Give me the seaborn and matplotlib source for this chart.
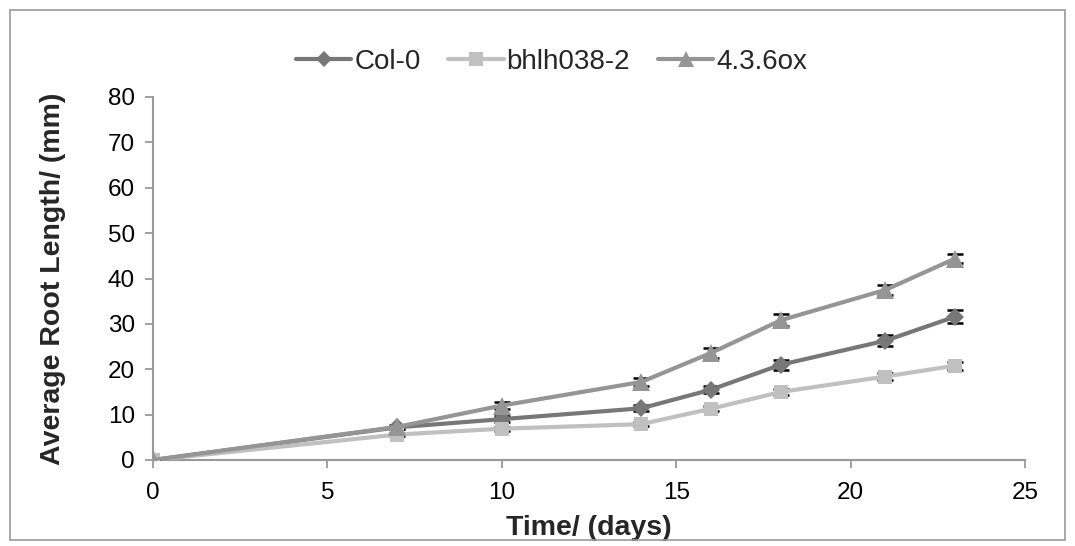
import matplotlib
matplotlib.use("Agg")
import matplotlib.pyplot as plt
import seaborn as sns
import pandas as pd
from matplotlib.patches import Rectangle
from matplotlib.lines import Line2D

days = [0, 7, 10, 14, 16, 18, 21, 23]
col0 = [0.0, 7.2, 9.0, 11.4, 15.5, 21.0, 26.3, 31.6]
col0_err = [0.0, 0.4, 0.6, 0.7, 0.8, 1.1, 1.2, 1.4]
bhlh = [0.0, 5.6, 6.9, 7.9, 11.3, 15.0, 18.4, 20.8]
bhlh_err = [0.0, 0.3, 0.4, 0.5, 0.6, 0.7, 0.8, 0.9]
ox = [0.0, 7.3, 12.0, 17.2, 23.6, 30.8, 37.5, 44.4]
ox_err = [0.0, 0.5, 0.7, 0.8, 1.1, 1.3, 1.1, 1.0]
series_names = ["Col-0", "bhlh038-2", "4.3.6ox"]

sns.set_theme(style="white")
plt.rcParams['font.family'] = ['Liberation Sans', 'DejaVu Sans']

rows = []
for name, vals, errs in [("Col-0", col0, col0_err), ("bhlh038-2", bhlh, bhlh_err), ("4.3.6ox", ox, ox_err)]:
    for d, v, e in zip(days, vals, errs):
        rows.append({"Time": d, "Length": v, "err": e, "Series": name})
df = pd.DataFrame(rows)

colors = {"Col-0": "#777777", "bhlh038-2": "#c0c0c0", "4.3.6ox": "#959595"}
markers = {"Col-0": "D", "bhlh038-2": "s", "4.3.6ox": "^"}
msizes = {"Col-0": 9.5, "bhlh038-2": 10.5, "4.3.6ox": 12.5}

fig = plt.figure(figsize=(10.75, 5.46), dpi=100)
ax = fig.add_axes([153/1075, 1 - 460/546, (1025-153)/1075, (460-97)/546])

for name in series_names:
    sub = df[df.Series == name]
    ax.errorbar(sub.Time, sub.Length, yerr=sub.err, fmt='none', ecolor='black',
                elinewidth=1.2, capsize=5.5, capthick=1.8, zorder=2)

sns.lineplot(data=df, x="Time", y="Length", hue="Series", style="Series",
             palette=colors, markers=markers, dashes=False, linewidth=3,
             markeredgewidth=0, ax=ax, legend=False, zorder=3)
for line, name in zip(ax.lines[-3:], series_names):
    line.set_markersize(msizes[name])

ax.set_xlim(0, 25)
ax.set_ylim(0, 80)
ax.set_xticks([0, 5, 10, 15, 20, 25])
ax.set_yticks(range(0, 81, 10))
ax.tick_params(axis='both', labelsize=17.5, labelcolor='black', color='#999999',
               length=6, width=1.3, direction='out')
ax.tick_params(axis='x', pad=10)
ax.tick_params(axis='y', pad=7)
ax.tick_params(left=True, bottom=True)
for s in ["top", "right"]:
    ax.spines[s].set_visible(False)
for s in ["left", "bottom"]:
    ax.spines[s].set_color("#999999")
    ax.spines[s].set_linewidth(1.5)
ax.set_xlabel("Time/ (days)", fontsize=20.5, fontweight='bold', labelpad=8)
ax.set_ylabel("Average Root Length/ (mm)", fontsize=20.5, fontweight='bold', labelpad=30)

handles = [Line2D([0], [0], color=colors[n], marker=markers[n], lw=3,
                  markersize=msizes[n] - 1, markeredgewidth=0) for n in series_names]
fig.legend(handles, series_names, loc='center', bbox_to_anchor=(0.513, 1 - 62/546),
           ncol=3, frameon=False, fontsize=20, handlelength=2.0, columnspacing=1.0,
           handletextpad=0.1)

fig.patches.append(Rectangle((10/1075, 6/546), 1055/1075, 530/546, transform=fig.transFigure,
                             fill=False, edgecolor='#999999', linewidth=1.2))

fig.savefig("out.png", dpi=100)
